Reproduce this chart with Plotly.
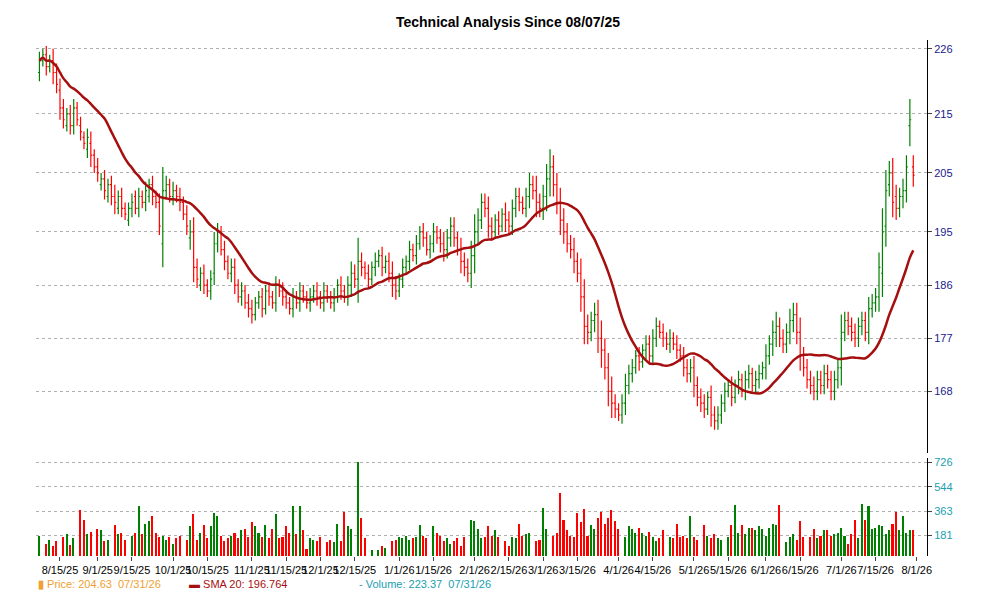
import pandas as pd
import plotly.graph_objects as go

# daily bars (trading days 08/07/25 .. 07/31/26)
closes = [
    224, 225, 223, 224, 222, 220, 216, 214, 215, 213,
    216, 214, 212, 210, 211, 208, 206, 205, 204, 202,
    203, 201, 200, 201, 199, 198, 199, 200, 199, 201,
    200, 202, 203, 201, 200, 196, 202, 203, 201, 202,
    201, 200, 198, 196, 195, 189, 187, 188, 186, 185,
    187, 193, 195, 192, 190, 188, 189, 186, 184, 185,
    183, 182, 181, 183, 184, 182, 185, 184, 183, 186,
    185, 184, 183, 182, 184, 183, 185, 184, 183, 184,
    185, 184, 183, 185, 184, 183, 184, 186, 185, 184,
    186, 188, 187, 190, 189, 188, 187, 189, 190, 191,
    189, 190, 188, 186, 185, 187, 189, 190, 192, 191,
    193, 195, 194, 192, 193, 195, 194, 193, 192, 194,
    196, 194, 192, 190, 189, 188, 191, 195, 197, 200,
    199, 196, 195, 197, 196, 198, 197, 196, 199, 201,
    200, 199, 201, 203, 202, 200, 199, 201, 204, 206,
    203, 200, 197, 195, 193, 192, 190, 188, 184, 179,
    178, 180, 181, 177, 175, 172, 168, 166, 165, 164,
    166, 169, 171, 172, 174, 173, 175, 176, 174, 177,
    179, 178, 177, 176, 177, 176, 175, 174, 172, 171,
    172, 169, 167, 166, 165, 167, 164, 163, 164, 166,
    168, 169, 167, 169, 170, 168, 170, 171, 169, 170,
    171, 172, 174, 176, 178, 179, 177, 176, 178, 180,
    181, 178, 174, 172, 170, 169, 168, 170, 169, 171,
    170, 168, 170, 172, 178, 180, 179, 178, 177, 179,
    180, 178, 182, 183, 184, 189, 195, 202, 205, 200,
    199, 201, 202, 206, 214, 204.63,
]
opens = [
    222, 224, 225, 223, 224, 222, 219, 216, 213, 215,
    213, 216, 213, 211, 209, 210, 208, 206, 203, 204,
    201, 203, 201, 199, 201, 199, 197, 199, 201, 199,
    201, 200, 201, 203, 201, 200, 193, 202, 203, 201,
    202, 201, 200, 198, 194, 195, 189, 186, 188, 186,
    185, 188, 193, 195, 192, 190, 188, 189, 186, 184,
    185, 183, 182, 181, 183, 184, 182, 185, 184, 183,
    186, 185, 184, 183, 182, 184, 183, 185, 184, 183,
    184, 185, 184, 183, 185, 184, 183, 184, 186, 185,
    184, 186, 188, 187, 190, 189, 188, 187, 189, 190,
    191, 189, 190, 188, 186, 185, 187, 189, 190, 192,
    191, 193, 195, 194, 192, 193, 195, 194, 193, 192,
    194, 196, 194, 192, 190, 189, 188, 191, 195, 197,
    200, 199, 196, 195, 197, 196, 198, 197, 196, 199,
    201, 200, 199, 201, 203, 202, 200, 199, 201, 204,
    206, 203, 200, 197, 195, 193, 192, 190, 188, 184,
    179, 178, 180, 181, 177, 175, 172, 168, 166, 165,
    164, 166, 169, 171, 172, 174, 173, 175, 176, 174,
    177, 179, 178, 177, 176, 177, 176, 175, 174, 172,
    171, 172, 169, 167, 166, 165, 167, 164, 163, 164,
    166, 168, 169, 167, 169, 170, 168, 170, 171, 169,
    170, 171, 172, 174, 176, 178, 179, 177, 176, 178,
    180, 181, 178, 174, 172, 170, 169, 168, 170, 169,
    171, 170, 168, 170, 172, 178, 180, 179, 178, 177,
    179, 180, 178, 182, 183, 184, 188, 196, 203, 205,
    201, 199, 201, 202, 213, 206,
]
spread = [
    3, 2, 3, 2, 4, 3, 4, 3, 2, 3,
    3, 2, 3, 2, 3, 4, 2, 3, 2, 3,
    2, 3, 4, 2, 3, 2, 2, 3, 2, 3,
    2, 3, 2, 3, 2, 3, 8, 3, 2, 3,
    2, 3, 2, 3, 4, 5, 3, 2, 3, 2,
    3, 4, 3, 2, 3, 2, 3, 3, 2, 3,
    2, 3, 3, 2, 2, 3, 2, 3, 2, 3,
    2, 3, 2, 2, 3, 2, 3, 2, 2, 3,
    2, 3, 2, 3, 2, 2, 3, 2, 3, 2,
    3, 4, 3, 8, 3, 2, 3, 2, 3, 2,
    3, 2, 3, 4, 3, 2, 3, 2, 3, 2,
    3, 2, 3, 2, 3, 3, 2, 3, 4, 3,
    3, 3, 2, 4, 3, 3, 5, 6, 4, 3,
    3, 4, 3, 2, 3, 2, 4, 3, 3, 3,
    3, 2, 3, 4, 3, 5, 3, 4, 5, 6,
    4, 4, 5, 4, 3, 3, 4, 3, 5, 6,
    4, 3, 4, 5, 6, 4, 5, 5, 3, 2,
    3, 4, 3, 3, 2, 3, 2, 3, 3, 3,
    3, 2, 3, 2, 3, 2, 3, 2, 3, 3,
    3, 4, 3, 3, 3, 2, 4, 3, 3, 3,
    3, 2, 3, 2, 3, 2, 3, 3, 2, 3,
    3, 2, 4, 3, 4, 5, 3, 3, 3, 4,
    4, 4, 5, 3, 3, 3, 3, 3, 3, 3,
    3, 3, 3, 3, 6, 3, 3, 3, 3, 3,
    3, 3, 4, 3, 3, 5, 8, 7, 4, 5,
    4, 3, 4, 4, 7, 4,
]
volumes = [
    175, 0, 120, 150, 100, 140, 0, 170, 190, 110,
    160, 0, 370, 300, 190, 210, 0, 230, 220, 140,
    150, 0, 260, 190, 200, 150, 0, 180, 200, 400,
    190, 270, 290, 330, 200, 170, 180, 150, 170, 120,
    160, 180, 0, 150, 250, 340, 150, 200, 260, 160,
    250, 350, 330, 180, 140, 160, 180, 200, 160, 220,
    230, 170, 280, 250, 200, 170, 260, 160, 230, 340,
    160, 170, 250, 200, 400, 190, 400, 220, 80, 160,
    150, 140, 170, 0, 130, 150, 130, 270, 140, 360,
    250, 230, 0, 730, 310, 160, 0, 70, 0, 70,
    100, 90, 0, 140, 150, 170, 160, 180, 150, 160,
    170, 260, 180, 160, 0, 250, 200, 180, 140, 160,
    120, 140, 160, 100, 170, 0, 300, 290, 230, 160,
    170, 250, 180, 220, 170, 0, 140, 100, 170, 160,
    270, 180, 190, 200, 0, 140, 150, 390, 230, 0,
    180, 200, 500, 300, 220, 180, 170, 350, 280, 380,
    180, 260, 230, 310, 360, 270, 310, 370, 290, 230,
    0, 170, 250, 230, 200, 240, 200, 180, 210, 170,
    140, 160, 220, 0, 170, 160, 270, 170, 180, 160,
    330, 170, 150, 0, 260, 180, 160, 190, 160, 150,
    0, 170, 260, 410, 200, 260, 190, 240, 240, 220,
    250, 230, 180, 240, 270, 260, 410, 0, 130, 170,
    190, 150, 290, 170, 0, 170, 230, 160, 180, 220,
    220, 180, 190, 200, 240, 180, 120, 190, 300, 160,
    420, 300, 400, 230, 240, 260, 250, 190, 220, 270,
    360, 220, 330, 200, 223, 223.37,
]

tick_dates = ["2025-08-15", "2025-09-01", "2025-09-15", "2025-10-01", "2025-10-15",
              "2025-11-01", "2025-11-15", "2025-12-01", "2025-12-15", "2026-01-01",
              "2026-01-15", "2026-02-01", "2026-02-15", "2026-03-01", "2026-03-15",
              "2026-04-01", "2026-04-15", "2026-05-01", "2026-05-15", "2026-06-01",
              "2026-06-15", "2026-07-01", "2026-07-15", "2026-08-01"]
tick_text = ["8/15/25", "9/1/25", "9/15/25", "10/1/25", "10/15/25", "11/1/25",
             "11/15/25", "12/1/25", "12/15/25", "1/1/26", "1/15/26", "2/1/26",
             "2/15/26", "3/1/26", "3/15/26", "4/1/26", "4/15/26", "5/1/26",
             "5/15/26", "6/1/26", "6/15/26", "7/1/26", "7/15/26", "8/1/26"]
price_ticks = [168, 177, 186, 195, 205, 215, 226]
vol_ticks = [181, 363, 544, 726]

days = pd.bdate_range("2025-08-07", periods=len(closes))
idx = list(range(len(closes)))
tick_pos = [days.searchsorted(pd.Timestamp(d)) for d in tick_dates]

highs = [max(o, c) + s / 2 for o, c, s in zip(opens, closes, spread)]
lows = [min(o, c) - s / 2 for o, c, s in zip(opens, closes, spread)]
sma = pd.Series(closes).rolling(20, min_periods=1).mean()
vol_colors = ["#008000" if c >= o else "#ff0000" for o, c in zip(opens, closes)]

fig = go.Figure()
fig.add_trace(go.Ohlc(
    x=idx, open=opens, high=highs, low=lows, close=closes,
    increasing_line_color="#008000", decreasing_line_color="#ff0000",
    line_width=1.2, tickwidth=0.4, yaxis="y", showlegend=False,
))
fig.add_trace(go.Scatter(x=idx, y=sma, mode="lines", yaxis="y",
                         line=dict(color="#a50f0f", width=2.5, shape="spline"),
                         showlegend=False))
fig.add_trace(go.Bar(x=idx, y=volumes, marker_color=vol_colors, width=0.45,
                     marker_line_width=0, yaxis="y2", showlegend=False))

grid = dict(showgrid=True, gridcolor="#b0b0b0", griddash="dot", gridwidth=1)
fig.update_layout(
    width=1000, height=600, plot_bgcolor="white", paper_bgcolor="white",
    margin=dict(l=28, r=81, t=32, b=52, autoexpand=False),
    font=dict(family="Arial, Liberation Sans", size=11, color="black"),
    title=dict(text="<b>Technical Analysis Since 08/07/25</b>", x=0.5, y=0.985,
               xanchor="center", font=dict(size=14)),
    bargap=0,
    xaxis=dict(range=[-1, 259], tickvals=tick_pos, ticktext=tick_text,
               tickangle=0, showgrid=False, rangeslider=dict(visible=False),
               ticks="outside", ticklen=4, anchor="y2", tickfont=dict(size=11)),
    yaxis=dict(domain=[0.2, 1], range=[157.6, 227.5], side="right",
               tickvals=price_ticks, showline=True, linecolor="black",
               ticks="outside", ticklen=4, tickfont=dict(color="#1a1a8c", size=11),
               **grid),
    yaxis2=dict(domain=[0, 0.19], range=[28, 760], side="right",
                tickvals=vol_ticks, showline=True, linecolor="black",
                ticks="outside", ticklen=4, tickfont=dict(color="#20a0b0", size=11),
                **grid),
)
fig.add_annotation(x=0.0, y=-0.07, xref="paper", yref="paper", showarrow=False,
                   xanchor="left", text="<b>▮</b> Price: 204.63  07/31/26",
                   font=dict(color="#f0a030", size=11))
fig.add_annotation(x=0.17, y=-0.07, xref="paper", yref="paper", showarrow=False,
                   xanchor="left", text="<b>▬</b> SMA 20: 196.764",
                   font=dict(color="#a50f0f", size=11))
fig.add_annotation(x=0.36, y=-0.07, xref="paper", yref="paper", showarrow=False,
                   xanchor="left", text="- Volume: 223.37  07/31/26",
                   font=dict(color="#20a0b0", size=11))

fig.write_html("out.html")
